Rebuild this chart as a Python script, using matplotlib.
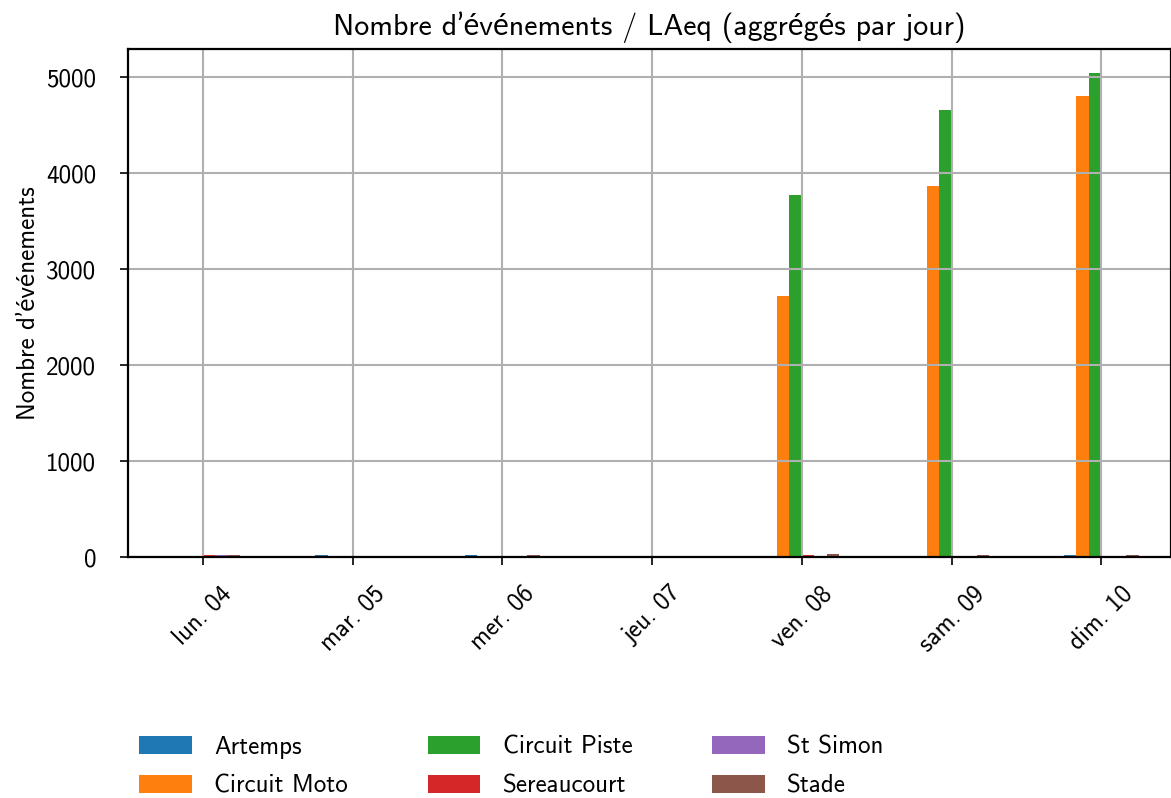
import matplotlib
matplotlib.use("Agg")
import matplotlib.pyplot as plt
import numpy as np

plt.rcParams['font.family'] = ['cmss10', 'Lato', 'DejaVu Sans']
plt.rcParams['axes.unicode_minus'] = False
plt.rcParams['axes.formatter.use_mathtext'] = False

# Data
days = ["lun. 04", "mar. 05", "mer. 06", "jeu. 07", "ven. 08", "sam. 09", "dim. 10"]
sites = ["Artemps", "Circuit Moto", "Circuit Piste", "Sereaucourt", "St Simon", "Stade"]
artemps = [10, 25, 25, 10, 8, 0, 25]
circuit_moto = [0, 0, 0, 0, 2720, 3870, 4810]
circuit_piste = [0, 0, 0, 0, 3775, 4665, 5050]
sereaucourt = [25, 0, 8, 8, 20, 8, 8]
st_simon = [25, 8, 8, 8, 0, 8, 8]
stade = [25, 10, 20, 10, 35, 18, 18]

series = [artemps, circuit_moto, circuit_piste, sereaucourt, st_simon, stade]
colors = ['#1f77b4', '#ff7f0e', '#2ca02c', '#d62728', '#9467bd', '#8c564b']

fig = plt.figure(figsize=(11.71, 7.98), dpi=100)
ax = fig.add_axes([0.1093, 0.302, 0.8907, 0.637])

x = np.arange(len(days))
w = 0.5 / len(series)
for i, (vals, name, c) in enumerate(zip(series, sites, colors)):
    ax.bar(x - 0.25 + w * (i + 0.5), vals, width=w, color=c, label=name)

ax.set_xticks(x)
ax.set_xticklabels(days, rotation=45, fontsize=18)
ax.tick_params(axis='y', labelsize=18, pad=17)
ax.tick_params(axis='x', pad=12)
ax.tick_params(length=6, width=1.2)
ax.set_xlim(-0.5, 6.465)
ax.set_ylim(0, 5300)
ax.set_yticks([0, 1000, 2000, 3000, 4000, 5000])
ax.grid(True, color='#b0b0b0', linewidth=1.5)
for s in ax.spines.values():
    s.set_linewidth(1.6)

ax.set_ylabel("Nombre d’événements", fontsize=18)
ax.set_title("Nombre d’événements / LAeq (aggrégés par jour)", fontsize=21.5, pad=10)

fig.legend(loc='lower left', bbox_to_anchor=(0.0995, -0.028), ncol=3, frameon=False,
           fontsize=18, handlelength=2.1, handleheight=0.75, columnspacing=3.2,
           labelspacing=0.65, handletextpad=0.9)

fig.savefig("out.png", dpi=100)
